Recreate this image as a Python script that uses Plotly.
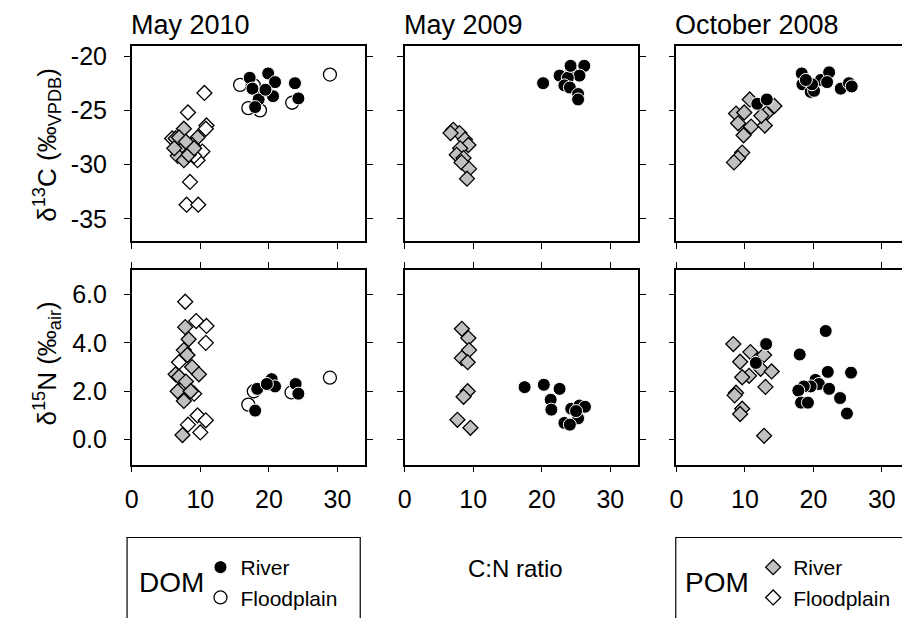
import plotly.graph_objects as go

# ---------------- data ----------------
titles = ["May 2010", "May 2009", "October 2008"]
x_tickvals = [0, 10, 20, 30]
x_ticktext = ["0", "10", "20", "30"]
c_tickvals = [-20, -25, -30, -35]
c_ticktext = ["-20", "-25", "-30", "-35"]
n_tickvals = [0, 2, 4, 6]
n_ticktext = ["0.0", "2.0", "4.0", "6.0"]

# May 2010 - d13C
m10_dom_riv_c_cn = [17.2, 19.9, 20.9, 23.8, 24.3, 20.6, 18.5, 17.6, 18.5, 18.0, 19.5]
m10_dom_riv_c = [-22.0, -21.6, -22.4, -22.5, -23.9, -23.7, -23.5, -23.0, -24.0, -24.7, -23.1]
m10_dom_fld_c_cn = [15.8, 17.8, 17.0, 18.7, 23.4, 28.9]
m10_dom_fld_c = [-22.65, -22.7, -24.8, -25.0, -24.3, -21.7]
m10_pom_riv_c_cn = [7.6, 6.4, 7.2, 9.6, 8.8, 6.7, 7.6, 8.3, 6.9, 7.9, 6.2, 9.1]
m10_pom_riv_c = [-26.7, -27.6, -28.3, -27.5, -28.2, -29.2, -29.6, -29.1, -27.5, -27.9, -28.5, -28.5]
m10_pom_fld_c_cn = [10.6, 8.2, 10.9, 10.8, 10.3, 9.6, 8.5, 8.0, 9.7, 5.9, 9.1]
m10_pom_fld_c = [-23.4, -25.2, -26.4, -26.7, -28.8, -29.6, -31.6, -33.7, -33.7, -27.6, -29.2]
# May 2010 - d15N
m10_dom_riv_n_cn = [18.0, 18.3, 20.4, 20.9, 19.7, 23.9, 24.3]
m10_dom_riv_n = [1.2, 2.1, 2.5, 2.2, 2.3, 2.3, 1.9]
m10_dom_fld_n_cn = [17.0, 17.8, 23.3, 28.9, 20.4]
m10_dom_fld_n = [1.45, 2.0, 1.95, 2.56, 2.3]
m10_pom_riv_n_cn = [7.8, 8.3, 7.6, 8.1, 8.8, 9.8, 6.4, 6.9, 7.9, 6.7, 7.6, 8.6, 7.4]
m10_pom_riv_n = [4.65, 4.15, 3.7, 3.5, 3.0, 2.7, 2.7, 2.6, 2.4, 2.0, 1.6, 2.0, 0.19]
m10_pom_fld_n_cn = [7.8, 9.4, 10.9, 10.8, 8.1, 6.9, 8.6, 9.6, 10.8, 8.2, 10.0, 9.1]
m10_pom_fld_n = [5.7, 4.9, 4.7, 4.0, 3.5, 3.2, 2.0, 1.0, 0.8, 0.62, 0.3, 1.9]

# May 2009
m09_dom_riv_c_cn = [20.2, 22.6, 24.3, 26.2, 25.5, 23.8, 23.3, 24.1, 25.3, 25.3, 24.2]
m09_dom_riv_c = [-22.5, -21.8, -21.2, -20.9, -21.8, -22.0, -22.7, -22.9, -23.5, -24.0, -20.9]
m09_pom_riv_c_cn = [7.1, 8.0, 8.8, 9.3, 8.1, 7.6, 8.6, 8.3, 9.4, 9.1, 6.7]
m09_pom_riv_c = [-26.8, -27.1, -27.7, -28.2, -28.5, -29.1, -29.4, -29.8, -30.4, -31.3, -27.1]
m09_dom_riv_n_cn = [17.5, 20.3, 22.6, 21.3, 21.4, 24.3, 25.5, 26.3, 25.3, 23.3, 24.1, 25.0]
m09_dom_riv_n = [2.17, 2.27, 2.1, 1.65, 1.24, 1.28, 1.41, 1.36, 0.88, 0.69, 0.62, 1.18]
m09_pom_riv_n_cn = [8.35, 9.3, 9.4, 8.35, 9.2, 9.2, 8.6, 7.7, 9.6]
m09_pom_riv_n = [4.58, 4.2, 3.7, 3.37, 3.2, 2.0, 1.77, 0.82, 0.49]

# October 2008
o08_dom_riv_c_cn = [18.3, 18.4, 19.6, 20.1, 21.1, 22.3, 22.0, 19.8, 24.0, 25.2, 25.6, 18.9, 11.8, 13.2]
o08_dom_riv_c = [-21.6, -22.6, -23.3, -23.2, -22.2, -21.5, -22.4, -22.6, -23.0, -22.5, -22.8, -22.2, -24.4, -24.0]
o08_pom_riv_c_cn = [10.7, 8.7, 9.9, 9.0, 10.9, 9.8, 13.1, 14.3, 12.9, 12.4, 9.6, 9.0, 8.4]
o08_pom_riv_c = [-24.0, -25.3, -25.2, -26.2, -26.5, -27.3, -25.3, -24.6, -26.4, -25.5, -28.9, -29.4, -29.8]
o08_dom_riv_n_cn = [21.8, 13.1, 18.0, 11.6, 22.1, 25.5, 20.3, 20.8, 19.6, 18.6, 17.8, 22.3, 23.9, 18.2, 19.2, 24.9]
o08_dom_riv_n = [4.49, 3.95, 3.52, 3.17, 2.8, 2.77, 2.47, 2.3, 2.2, 2.2, 2.03, 2.1, 1.72, 1.53, 1.53, 1.08]
o08_pom_riv_n_cn = [8.3, 10.8, 12.8, 9.3, 12.3, 13.9, 10.6, 9.6, 13.0, 8.7, 8.5, 9.6, 9.3, 12.8]
o08_pom_riv_n = [3.95, 3.62, 3.5, 3.22, 2.93, 2.82, 2.64, 2.58, 2.18, 1.94, 1.83, 1.28, 1.06, 0.16]

# ---------------- styles ----------------
FONT = "Arial, Liberation Sans, sans-serif"
STY = {
    "dom_riv": dict(name="River", legend="legend", marker=dict(symbol="circle", size=13, color="black", line=dict(color="white", width=1))),
    "dom_fld": dict(name="Floodplain", legend="legend", marker=dict(symbol="circle", size=13, color="white", line=dict(color="black", width=1.3))),
    "pom_riv": dict(name="River", legend="legend2", marker=dict(symbol="diamond", size=11.5, color="#c0c0c0", line=dict(color="black", width=1.3))),
    "pom_fld": dict(name="Floodplain", legend="legend2", marker=dict(symbol="diamond", size=11.5, color="white", line=dict(color="black", width=1.3))),
}

# panel index (1..6), series key, x, y
series = [
    (1, "pom_fld", m10_pom_fld_c_cn, m10_pom_fld_c),
    (1, "pom_riv", m10_pom_riv_c_cn, m10_pom_riv_c),
    (1, "dom_fld", m10_dom_fld_c_cn, m10_dom_fld_c),
    (1, "dom_riv", m10_dom_riv_c_cn, m10_dom_riv_c),
    (4, "pom_fld", m10_pom_fld_n_cn, m10_pom_fld_n),
    (4, "pom_riv", m10_pom_riv_n_cn, m10_pom_riv_n),
    (4, "dom_fld", m10_dom_fld_n_cn, m10_dom_fld_n),
    (4, "dom_riv", m10_dom_riv_n_cn, m10_dom_riv_n),
    (2, "pom_riv", m09_pom_riv_c_cn, m09_pom_riv_c),
    (2, "dom_riv", m09_dom_riv_c_cn, m09_dom_riv_c),
    (5, "pom_riv", m09_pom_riv_n_cn, m09_pom_riv_n),
    (5, "dom_riv", m09_dom_riv_n_cn, m09_dom_riv_n),
    (3, "pom_riv", o08_pom_riv_c_cn, o08_pom_riv_c),
    (3, "dom_riv", o08_dom_riv_c_cn, o08_dom_riv_c),
    (6, "pom_riv", o08_pom_riv_n_cn, o08_pom_riv_n),
    (6, "dom_riv", o08_dom_riv_n_cn, o08_dom_riv_n),
]

legend_order = ["dom_riv", "dom_fld", "pom_riv", "pom_fld"]

fig = go.Figure()
# legend-entry traces first so legend order is River, Floodplain
for key in legend_order:
    s = STY[key]
    fig.add_trace(go.Scatter(x=[None], y=[None], mode="markers", name=s["name"], legend=s["legend"],
                             marker=s["marker"], showlegend=True, xaxis="x", yaxis="y"))
for p, key, xs, ys in series:
    s = STY[key]
    sfx = "" if p == 1 else str(p)
    fig.add_trace(go.Scatter(x=xs, y=ys, mode="markers", marker=s["marker"], showlegend=False,
                             xaxis="x" + sfx, yaxis="y" + sfx, hoverinfo="skip"))

W, H = 902, 618
col_px = [(125.7, 360.7), (400.7, 635.7), (674.7, 902.0)]
x_ranges = [[0, 34], [0, 34], [0, (902.0 - 674.7) / 6.9]]
row_px = [(44, 247), (277, 480)]
y_ranges = [[-37.05, -19.09], [-1.03, 7.02]]

layout = dict(width=W, height=H, margin=dict(l=0, r=0, t=0, b=0),
              paper_bgcolor="white", plot_bgcolor="white",
              font=dict(family=FONT, color="black"))

for r in range(2):
    for c in range(3):
        p = r * 3 + c + 1
        sfx = "" if p == 1 else str(p)
        x0, x1 = col_px[c]
        y0, y1 = row_px[r]
        xa = dict(domain=[x0 / W, x1 / W], range=x_ranges[c], anchor="y" + sfx,
                  showgrid=False, zeroline=False, showline=True, linecolor="black", linewidth=1.5,
                  ticks="outside", ticklen=6, tickwidth=1.2, tickcolor="black",
                  tickvals=x_tickvals, ticktext=x_ticktext,
                  showticklabels=(r == 1), tickfont=dict(size=25, family=FONT),
                  ticklabelstandoff=6,
                  mirror=("allticks" if r == 1 else True))
        ya = dict(domain=[1 - y1 / H, 1 - y0 / H], range=y_ranges[r], anchor="x" + sfx,
                  showgrid=False, zeroline=False, showline=True, linecolor="black", linewidth=1.5,
                  ticks="outside", ticklen=6, tickwidth=1.2, tickcolor="black",
                  tickvals=(c_tickvals if r == 0 else n_tickvals),
                  ticktext=(c_ticktext if r == 0 else n_ticktext),
                  showticklabels=(c == 0), tickfont=dict(size=25, family=FONT),
                  ticklabelstandoff=12,
                  mirror=("allticks" if c < 2 else False))
        layout["xaxis" + sfx] = xa
        layout["yaxis" + sfx] = ya

annotations = []
for c, t in enumerate(titles):
    annotations.append(dict(text=t, x=(col_px[c][0] - 3) / W, y=1 - 22 / H, xref="paper", yref="paper",
                            xanchor="left", yanchor="middle", showarrow=False,
                            font=dict(size=27, family=FONT)))
annotations.append(dict(text="δ<sup>13</sup>C (‰<sub>VPDB</sub>)", x=40 / W, y=1 - 147 / H,
                        xref="paper", yref="paper", textangle=-90, showarrow=False,
                        xanchor="center", yanchor="middle", font=dict(size=26, family=FONT)))
annotations.append(dict(text="δ<sup>15</sup>N (‰<sub>air</sub>)", x=40 / W, y=1 - 375 / H,
                        xref="paper", yref="paper", textangle=-90, showarrow=False,
                        xanchor="center", yanchor="middle", font=dict(size=26, family=FONT)))
annotations.append(dict(text="C:N ratio", x=512 / W, y=1 - 588 / H, xref="paper", yref="paper",
                        xanchor="center", yanchor="middle", showarrow=False,
                        font=dict(size=24, family=FONT)))
annotations.append(dict(text="DOM", x=131 / W, y=1 - 603 / H, xref="paper", yref="paper",
                        xanchor="left", yanchor="middle", showarrow=False,
                        font=dict(size=28, family=FONT)))
annotations.append(dict(text="POM", x=681 / W, y=1 - 603 / H, xref="paper", yref="paper",
                        xanchor="left", yanchor="middle", showarrow=False,
                        font=dict(size=28, family=FONT)))
layout["annotations"] = annotations

layout["shapes"] = [
    dict(type="path", xref="paper", yref="paper",
         path=f"M {121/W},{-0.05} L {121/W},{1-556/H} L {356/W},{1-556/H} L {356/W},{-0.05}",
         line=dict(color="black", width=1.2)),
    dict(type="path", xref="paper", yref="paper",
         path=f"M {674/W},{-0.05} L {674/W},{1-556/H} L {1.05},{1-556/H}",
         line=dict(color="black", width=1.2)),
]

leg_common = dict(bgcolor="rgba(0,0,0,0)", borderwidth=0, font=dict(size=21, family=FONT),
                  xanchor="left", yanchor="top", tracegroupgap=0, itemsizing="trace")
layout["legend"] = dict(x=195 / W, y=1 - 566 / H, **leg_common)
layout["legend2"] = dict(x=752 / W, y=1 - 566 / H, **leg_common)

fig.update_layout(**layout)
fig.write_html("out.html")
